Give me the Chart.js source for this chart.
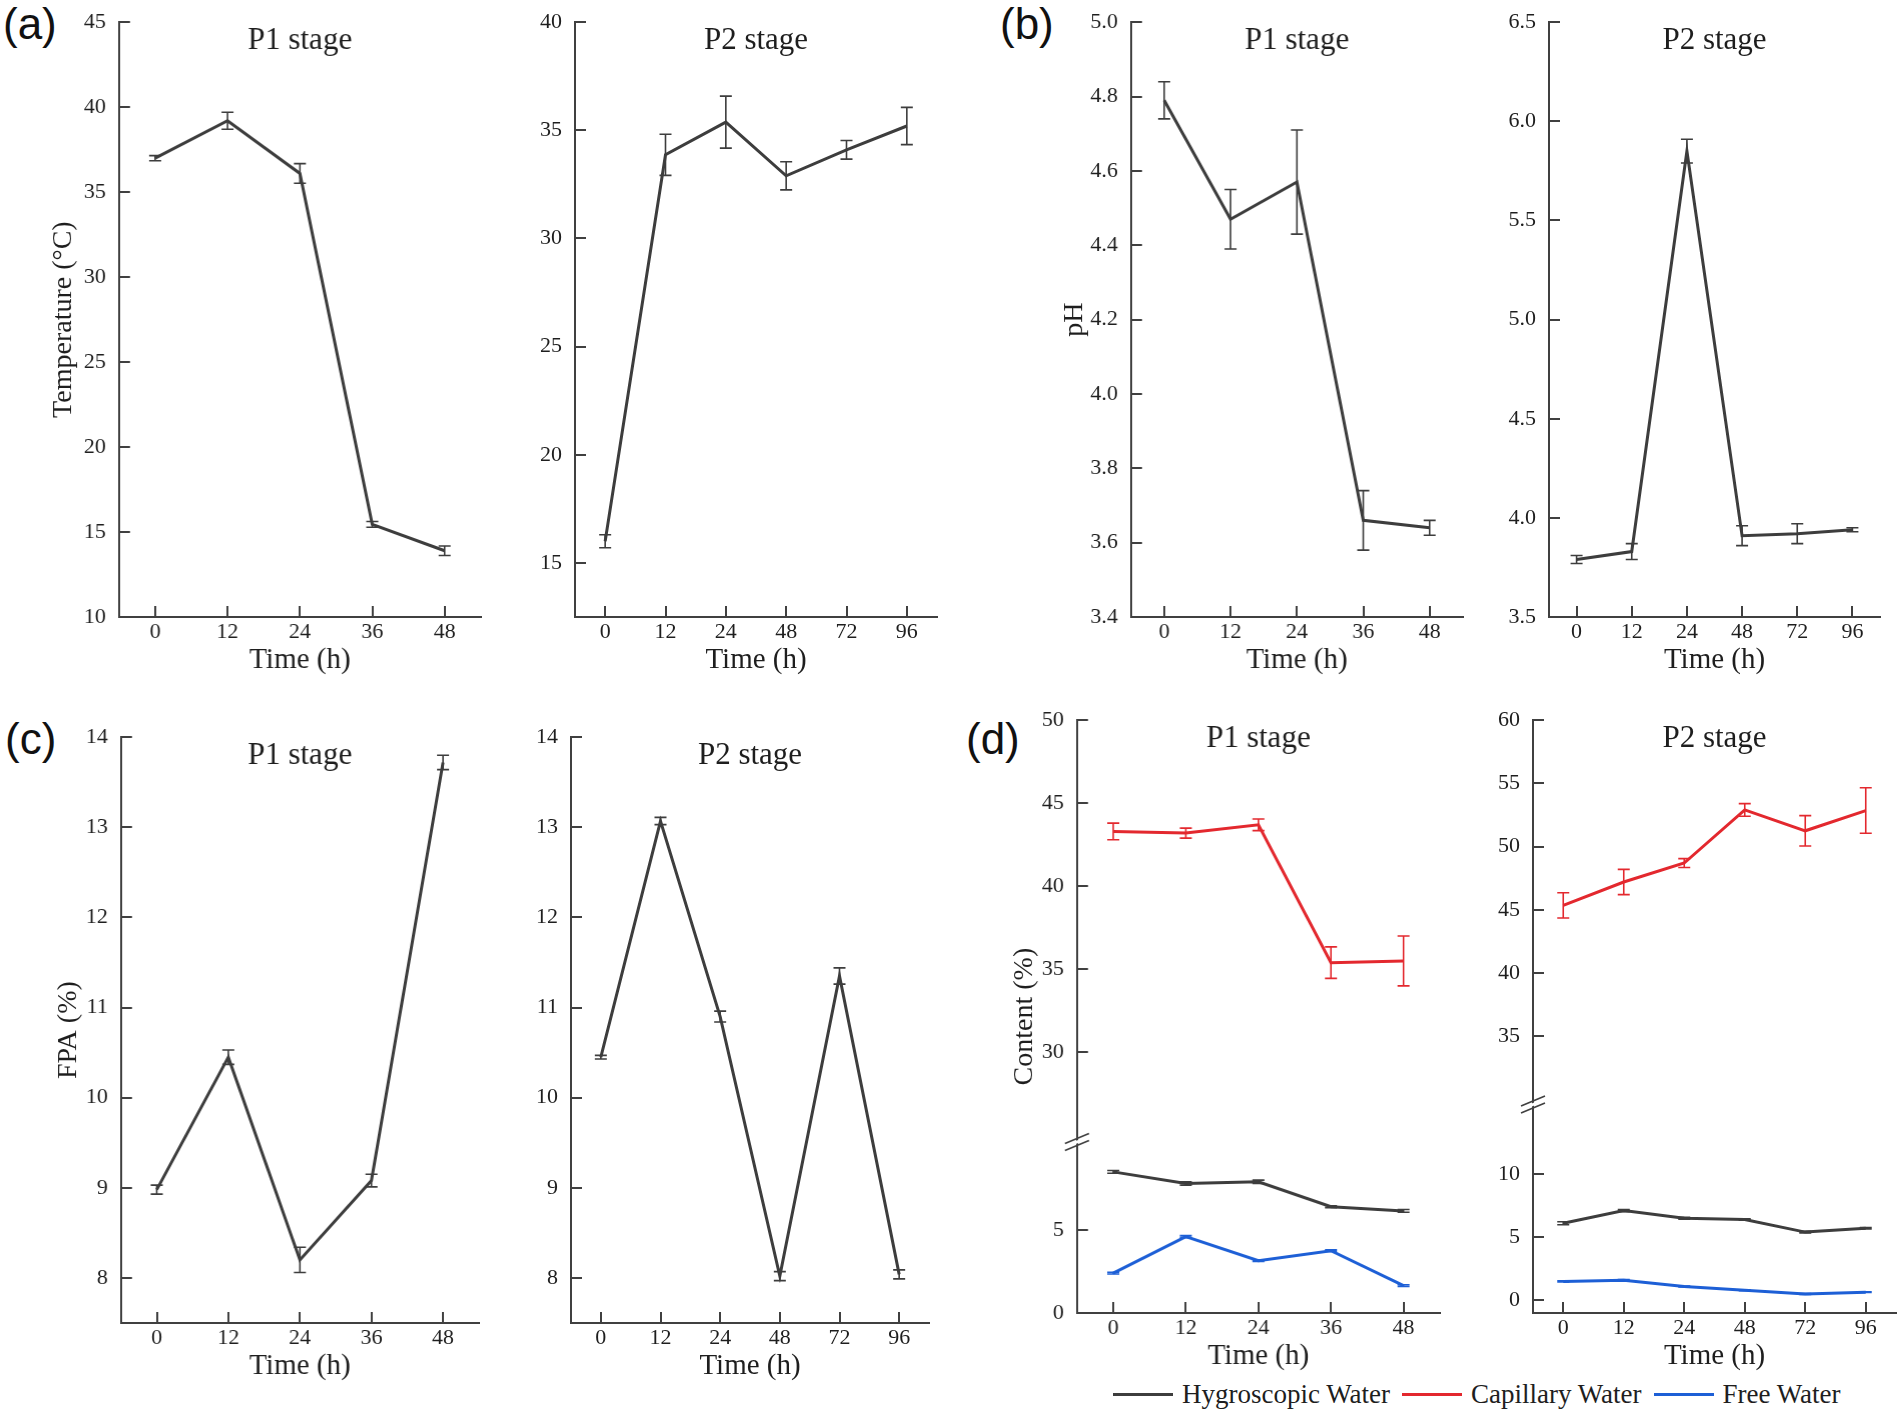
<!DOCTYPE html>
<html>
<head>
<meta charset="utf-8">
<script src="https://cdn.jsdelivr.net/npm/chart.js@4.4.1/dist/chart.umd.min.js"></script>
<style>
  html, body { margin: 0; padding: 0; background: #fff; overflow: hidden; }
  body { width: 1902px; height: 1414px; position: relative; }
  .panel { position: absolute; }
  .tag { position: absolute; font-family: "Liberation Sans", Arial, sans-serif; font-size: 44px; line-height: 1; color: #111; }
  #legend { position: absolute; left: 1113px; top: 1379px; display: flex; align-items: center;
            font-family: "Liberation Serif", "Times New Roman", serif; font-size: 27px; color: #1e1e1e; white-space: nowrap; }
  #legend .it { display: flex; align-items: center; margin-right: 12px; }
  #legend .sw { display: inline-block; width: 60px; height: 3px; margin-right: 9px; }
</style>
</head>
<body>
<div class="tag" style="left:3px;top:2px">(a)</div>
<div class="tag" style="left:1000px;top:2px">(b)</div>
<div class="tag" style="left:5px;top:717px">(c)</div>
<div class="tag" style="left:966px;top:717px">(d)</div>

<div class="panel" id="wA1"><canvas id="cA1"></canvas></div>
<div class="panel" id="wA2"><canvas id="cA2"></canvas></div>
<div class="panel" id="wB1"><canvas id="cB1"></canvas></div>
<div class="panel" id="wB2"><canvas id="cB2"></canvas></div>
<div class="panel" id="wC1"><canvas id="cC1"></canvas></div>
<div class="panel" id="wC2"><canvas id="cC2"></canvas></div>
<div class="panel" id="wD1"><canvas id="cD1"></canvas></div>
<div class="panel" id="wD2"><canvas id="cD2"></canvas></div>

<div id="legend">
  <span class="it"><span class="sw" style="background:#3d3d3d"></span>Hygroscopic Water</span>
  <span class="it"><span class="sw" style="background:#e3282e"></span>Capillary Water</span>
  <span class="it"><span class="sw" style="background:#1d5fd6"></span>Free Water</span>
</div>

<script>
// ===== data =====
const hoursP1 = ['0', '12', '24', '36', '48'];
const hoursP2 = ['0', '12', '24', '48', '72', '96'];

// (a) temperature (°C), mean and error
const tempP1 = [37.0, 39.2, 36.1, 15.45, 13.9];
const tempP1Err = [0.15, 0.5, 0.58, 0.17, 0.28];
const tempP2 = [16.0, 33.87, 35.38, 32.9, 34.1, 35.2];
const tempP2Err = [0.3, 0.95, 1.2, 0.65, 0.43, 0.86];

// (b) pH
const phP1 = [4.79, 4.47, 4.57, 3.66, 3.64];
const phP1Err = [0.05, 0.08, 0.14, 0.08, 0.02];
const phP2 = [3.79, 3.83, 5.85, 3.91, 3.92, 3.94];
const phP2Err = [0.02, 0.04, 0.06, 0.05, 0.05, 0.01];

// (c) FPA (%)
const fpaP1 = [8.98, 10.45, 8.2, 9.08, 13.72];
const fpaP1Err = [0.05, 0.08, 0.14, 0.07, 0.08];
const fpaP2 = [10.45, 13.07, 10.9, 8.02, 11.35, 8.04];
const fpaP2Err = [0.02, 0.04, 0.06, 0.05, 0.09, 0.05];

// (d) water content (%)
const hygroP1 = [8.5, 7.8, 7.9, 6.4, 6.15];
const hygroP1Err = [0.08, 0.1, 0.1, 0.06, 0.08];
const capP1 = [43.3, 43.2, 43.7, 35.4, 35.5];
const capP1Err = [0.5, 0.3, 0.35, 0.95, 1.5];
const freeP1 = [2.4, 4.6, 3.15, 3.75, 1.65];
const freeP1Err = [0.05, 0.06, 0.05, 0.05, 0.05];
const hygroP2 = [6.1, 7.1, 6.5, 6.4, 5.4, 5.7];
const hygroP2Err = [0.12, 0.08, 0.08, 0.06, 0.06, 0.06];
const capP2 = [45.35, 47.2, 48.7, 52.9, 51.25, 52.85];
const capP2Err = [1.0, 1.0, 0.35, 0.5, 1.2, 1.8];
const freeP2 = [1.5, 1.6, 1.1, 0.8, 0.5, 0.65];
const freeP2Err = [0.04, 0.04, 0.03, 0.03, 0.03, 0.03];

// tick labels
const tempP1Ticks = [10, 15, 20, 25, 30, 35, 40, 45];
const tempP2Ticks = [15, 20, 25, 30, 35, 40];
const phP1Ticks = [3.4, 3.6, 3.8, 4.0, 4.2, 4.4, 4.6, 4.8, 5.0];
const phP2Ticks = [3.5, 4.0, 4.5, 5.0, 5.5, 6.0, 6.5];
const fpaTicks = [8, 9, 10, 11, 12, 13, 14];
const contentP1HiTicks = [30, 35, 40, 45, 50];
const contentP1LoTicks = [0, 5];
const contentP2HiTicks = [35, 40, 45, 50, 55, 60];
const contentP2LoTicks = [0, 5, 10];

// ===== style =====
const SERIF = '"Liberation Serif", "Times New Roman", serif';
const AXIS = '#404040';
const TEXT = '#1e1e1e';
const INK = '#3d3d3d';
const RED = '#e3282e';
const BLUE = '#1d5fd6';

// vertical error bars with caps, drawn from each dataset's "errors" array
const errorBars = {
  id: 'errorBars',
  afterDatasetsDraw(chart) {
    const ctx = chart.ctx;
    chart.data.datasets.forEach((ds, i) => {
      if (!ds.errors) return;
      const meta = chart.getDatasetMeta(i);
      const ys = chart.scales[meta.yAxisID];
      ctx.save();
      ctx.strokeStyle = ds.borderColor;
      ctx.lineWidth = 1.6;
      meta.data.forEach((pt, j) => {
        const e = ds.errors[j];
        if (!e) return;
        const hi = ys.getPixelForValue(ds.data[j] + e);
        const lo = ys.getPixelForValue(ds.data[j] - e);
        ctx.beginPath();
        ctx.moveTo(pt.x, hi); ctx.lineTo(pt.x, lo);
        ctx.moveTo(pt.x - 6, hi); ctx.lineTo(pt.x + 6, hi);
        ctx.moveTo(pt.x - 6, lo); ctx.lineTo(pt.x + 6, lo);
        ctx.stroke();
      });
      ctx.restore();
    });
  }
};

// "//" mark where the two stacked y axes meet
const axisBreak = {
  id: 'axisBreak',
  afterDraw(chart) {
    const hi = chart.scales.yHi;
    if (!hi) return;
    const ctx = chart.ctx;
    const x = chart.chartArea.left, y = hi.bottom;
    ctx.save();
    ctx.fillStyle = '#fff';
    ctx.beginPath();
    ctx.moveTo(x - 11, y + 6); ctx.lineTo(x + 11, y - 3);
    ctx.lineTo(x + 11, y - 6); ctx.lineTo(x - 11, y + 3);
    ctx.closePath();
    ctx.fill();
    ctx.strokeStyle = AXIS;
    ctx.lineWidth = 1.6;
    ctx.beginPath();
    ctx.moveTo(x - 12, y + 8.5); ctx.lineTo(x + 12, y - 1.5);
    ctx.moveTo(x - 12, y + 1.5); ctx.lineTo(x + 12, y - 8.5);
    ctx.stroke();
    ctx.restore();
  }
};

function series(data, errors, color, yAxisID) {
  return {
    data, errors, yAxisID: yAxisID || 'y',
    borderColor: color, borderWidth: 3, pointRadius: 0, tension: 0, fill: false
  };
}

const int = v => String(v);
const dec1 = v => v.toFixed(1);

function yAxis(min, max, ticks, fmt, extra) {
  return Object.assign({
    type: 'linear', position: 'left', min, max,
    border: { display: true, color: AXIS, width: 2 },
    grid: { display: true, drawOnChartArea: false, drawTicks: true, tickLength: -11, color: AXIS, lineWidth: 2 },
    ticks: { font: { family: SERIF, size: 22 }, color: TEXT, padding: 24, callback: fmt },
    afterBuildTicks: s => { s.ticks = ticks.map(v => ({ value: v })); }
  }, extra || {});
}

// g: plot frame on the page (y axis x, right end, top tick y, x axis y, y-title distance)
function panel(key, g, labels, datasets, yScales, title, yTitle) {
  const padTop = 20, shift = 16, xH = 65, padRight = 5;
  const yW = 50;
  const titleLH = 28 * 1.2;
  const padB = yTitle ? g.gap - titleLH / 2 - yW : 0;
  const subW = yTitle ? titleLH + 2 + padB : 0;
  const left = g.left - yW - subW;
  const wrap = document.getElementById('w' + key);
  wrap.style.left = left + 'px';
  wrap.style.top = (g.top - padTop - shift) + 'px';
  wrap.style.width = (g.right + padRight - left) + 'px';
  wrap.style.height = (g.bottom - g.top + padTop + shift + xH) + 'px';

  Object.values(yScales).forEach(s => { s.afterFit = sc => { sc.width = yW; }; });

  new Chart(document.getElementById('c' + key), {
    type: 'line',
    data: { labels, datasets },
    plugins: [errorBars, axisBreak],
    options: {
      responsive: true,
      maintainAspectRatio: false,
      animation: false,
      layout: { padding: { top: padTop, right: padRight, left: 0, bottom: 0 } },
      plugins: {
        legend: { display: false },
        tooltip: { enabled: false },
        title: {
          display: true, text: title, fullSize: false, color: TEXT,
          font: { family: SERIF, size: 31, weight: 'normal' },
          padding: { top: 0, bottom: -37.2 }
        },
        subtitle: yTitle ? {
          display: true, text: yTitle, position: 'left', fullSize: false, color: TEXT,
          font: { family: SERIF, size: 28, weight: 'normal' },
          padding: { top: 2, bottom: padB }
        } : { display: false }
      },
      scales: Object.assign({
        x: {
          type: 'category', offset: true,
          afterFit: s => { s.height = xH; },
          border: { display: true, color: AXIS, width: 2 },
          grid: { display: true, drawOnChartArea: false, drawTicks: true, tickLength: -11, color: AXIS, lineWidth: 2, offset: false },
          ticks: { font: { family: SERIF, size: 22 }, color: TEXT, padding: 13, maxRotation: 0, autoSkip: false },
          title: { display: true, text: 'Time (h)', color: TEXT, font: { family: SERIF, size: 29 }, padding: { top: 0, bottom: 4 } }
        }
      }, yScales)
    }
  });
}

// (a) temperature
panel('A1', { left: 119, right: 480, top: 21, bottom: 617, gap: 55 }, hoursP1,
  [series(tempP1, tempP1Err, INK)],
  { y: yAxis(10, 45, tempP1Ticks, int) }, 'P1 stage', 'Temperature (°C)');
panel('A2', { left: 575, right: 937, top: 21, bottom: 617 }, hoursP2,
  [series(tempP2, tempP2Err, INK)],
  { y: yAxis(12.5, 40, tempP2Ticks, int) }, 'P2 stage');

// (b) pH
panel('B1', { left: 1131, right: 1462, top: 21, bottom: 617, gap: 56 }, hoursP1,
  [series(phP1, phP1Err, INK)],
  { y: yAxis(3.4, 5.0, phP1Ticks, dec1) }, 'P1 stage', 'pH');
panel('B2', { left: 1549, right: 1880, top: 21, bottom: 617 }, hoursP2,
  [series(phP2, phP2Err, INK)],
  { y: yAxis(3.5, 6.5, phP2Ticks, dec1) }, 'P2 stage');

// (c) FPA
panel('C1', { left: 121, right: 478, top: 736, bottom: 1323, gap: 52 }, hoursP1,
  [series(fpaP1, fpaP1Err, INK)],
  { y: yAxis(7.5, 14, fpaTicks, int) }, 'P1 stage', 'FPA (%)');
panel('C2', { left: 571, right: 929, top: 736, bottom: 1323 }, hoursP2,
  [series(fpaP2, fpaP2Err, INK)],
  { y: yAxis(7.5, 14, fpaTicks, int) }, 'P2 stage');

// (d) water content, broken axis made of two stacked y scales
panel('D1', { left: 1077, right: 1439, top: 719, bottom: 1313, gap: 52 }, hoursP1,
  [series(hygroP1, hygroP1Err, INK, 'yLo'),
   series(capP1, capP1Err, RED, 'yHi'),
   series(freeP1, freeP1Err, BLUE, 'yLo')],
  {
    yLo: yAxis(0, 10.3, contentP1LoTicks, int, { stack: 'content', stackWeight: 10.3 }),
    yHi: yAxis(24.6, 50, contentP1HiTicks, int, { stack: 'content', stackWeight: 25.4 })
  }, 'P1 stage', 'Content (%)');
panel('D2', { left: 1533, right: 1896, top: 719, bottom: 1313 }, hoursP2,
  [series(hygroP2, hygroP2Err, INK, 'yLo'),
   series(capP2, capP2Err, RED, 'yHi'),
   series(freeP2, freeP2Err, BLUE, 'yLo')],
  {
    yLo: yAxis(-1, 15.5, contentP2LoTicks, int, { stack: 'content', stackWeight: 16.5 }),
    yHi: yAxis(29.6, 60, contentP2HiTicks, int, { stack: 'content', stackWeight: 30.4 })
  }, 'P2 stage');
</script>
</body>
</html>
